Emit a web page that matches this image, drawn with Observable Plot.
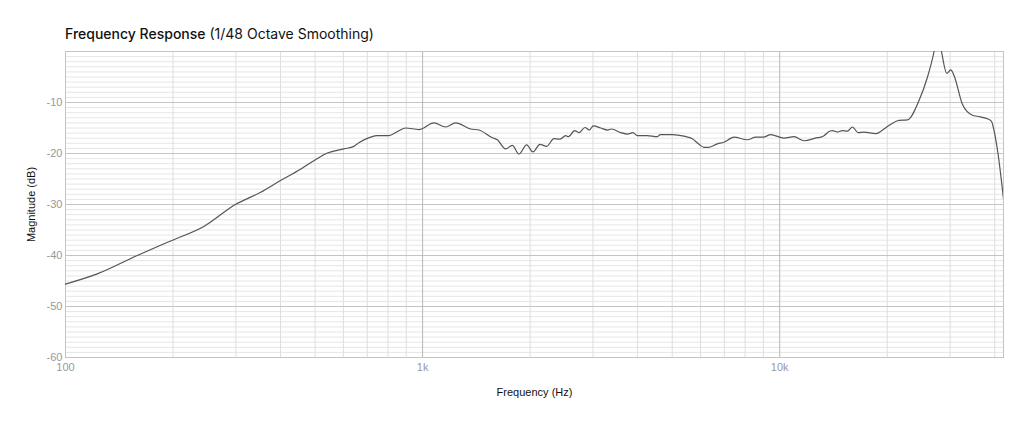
<!DOCTYPE html>
<html>
<head>
<meta charset="utf-8">
<script src="https://cdn.jsdelivr.net/npm/d3@7"></script>
<script src="https://cdn.jsdelivr.net/npm/@observablehq/plot@0.6"></script>
<style>
  body { margin: 0; background: #fff; font-family: "Liberation Sans", Arial, sans-serif; }
  #title { height: 46px; box-sizing: border-box; padding-left: 65px; padding-top: 26px; font-family: Inter, "Liberation Sans", sans-serif; font-size: 14px; color: #111; line-height: 16px; }
  #title b { font-weight: 500; }
  #title span { font-weight: 400; }
</style>
</head>
<body>
<div id="title"><b>Frequency Response</b> <span>(1/48 Octave Smoothing)</span></div>
<div id="chart"></div>
<script>
const freqHz = [100, 122.7, 158.8, 184.6, 201, 244, 299, 352, 400, 455, 496, 541, 602, 642, 663, 715, 746, 805, 850, 896, 977, 1076, 1160, 1237, 1363, 1438, 1567, 1619, 1708, 1783, 1861, 1956, 2037, 2131, 2225, 2332, 2420, 2516, 2560, 2666, 2740, 2849, 2930, 3006, 3152, 3300, 3380, 3586, 3750, 3880, 3993, 4250, 4540, 4630, 5005, 5395, 5694, 5943, 6138, 6300, 6692, 6970, 7447, 8119, 8567, 9000, 9436, 10280, 10965, 11700, 12750, 13025, 13300, 13830, 14050, 14510, 14980, 15470, 15980, 16570, 17220, 18580, 20030, 21590, 22790, 24550, 25930, 27050, 27700, 28380, 29370, 30130, 30770, 32500, 34660, 35790, 38180, 39170, 39830, 40870, 42330];
const magnitudeDb = [-45.6, -43.6, -40.0, -38.0, -36.9, -34.3, -30.0, -27.6, -25.3, -23.1, -21.4, -19.9, -19.1, -18.6, -17.9, -16.8, -16.5, -16.5, -15.7, -15.0, -15.3, -14.0, -14.8, -14.0, -15.2, -15.4, -16.9, -17.3, -19.1, -18.4, -20.1, -18.3, -19.7, -18.2, -18.6, -17.1, -17.2, -16.5, -16.7, -15.5, -15.9, -14.9, -15.4, -14.6, -15.0, -15.4, -15.2, -15.9, -16.2, -15.9, -16.5, -16.5, -16.7, -16.3, -16.3, -16.6, -17.1, -18.2, -18.8, -18.8, -18.1, -17.8, -16.8, -17.3, -16.8, -16.8, -16.3, -17.0, -16.7, -17.5, -16.9, -16.8, -16.5, -15.6, -15.5, -15.8, -15.5, -15.6, -14.8, -15.9, -15.8, -16.1, -14.7, -13.5, -13.4, -9.6, -5.0, 0.0, 4.0, 0.0, -4.3, -3.6, -4.7, -10.4, -12.5, -12.7, -13.2, -13.7, -15.5, -20.1, -28.9];

const xDomain = [100, 42330];
const yDomain = [-60, 0];
const xTickValues = [100, 1000, 10000];
const xTickLabels = ["100", "1k", "10k"];
const yTickValues = [-10, -20, -30, -40, -50, -60];

const data = freqHz.map((f, i) => ({f, m: magnitudeDb[i]}));

// grid positions derived from decades
const minorX = [];
for (const dec of [100, 1000, 10000]) for (let k = 2; k <= 9; k++) { const v = dec * k; if (v <= xDomain[1]) minorX.push(v); }
const minorY = d3.range(-59, 0).filter(v => v % 10 !== 0);
const majorY = [-10, -20, -30, -40, -50];

const plot = Plot.plot({
  width: 1024,
  height: 381,
  marginTop: 5,
  marginLeft: 65,
  marginRight: 21,
  marginBottom: 70,
  style: { fontFamily: "Liberation Sans, Arial, sans-serif", fontSize: "11px", background: "#fff" },
  x: { type: "log", domain: xDomain },
  y: { domain: yDomain },
  marks: [
    Plot.ruleY(minorY, { stroke: "#e6e6e6", strokeWidth: 1 }),
    Plot.ruleX(minorX, { stroke: "#dedede", strokeWidth: 1 }),
    Plot.ruleY(majorY, { stroke: "#c4c4c4", strokeWidth: 1 }),
    Plot.ruleX([1000, 10000], { stroke: "#b8b8b8", strokeWidth: 1 }),
    Plot.frame({ stroke: "#c4c4c4" }),
    Plot.axisY({ ticks: yTickValues, tickSize: 0, tickPadding: 3, fill: "#999", tickFormat: (d) => `${d}`, label: "Magnitude (dB)", labelAnchor: "center", labelArrow: "none", labelOffset: 38 }),
    Plot.axisX({ ticks: xTickValues, tickSize: 0, tickPadding: 6, fill: "#999", tickFormat: (d) => xTickLabels[xTickValues.indexOf(d)], label: "Frequency (Hz)", labelAnchor: "center", labelArrow: "none", labelOffset: 38 }),
    Plot.line(data, { x: "f", y: "m", stroke: "#555", strokeWidth: 1.2, curve: "monotone-x", clip: true })
  ]
});
plot.querySelectorAll("g[aria-label='y-axis label'], g[aria-label='x-axis label']").forEach(g => g.setAttribute("fill", "#111"));
document.getElementById("chart").appendChild(plot);
</script>
</body>
</html>
